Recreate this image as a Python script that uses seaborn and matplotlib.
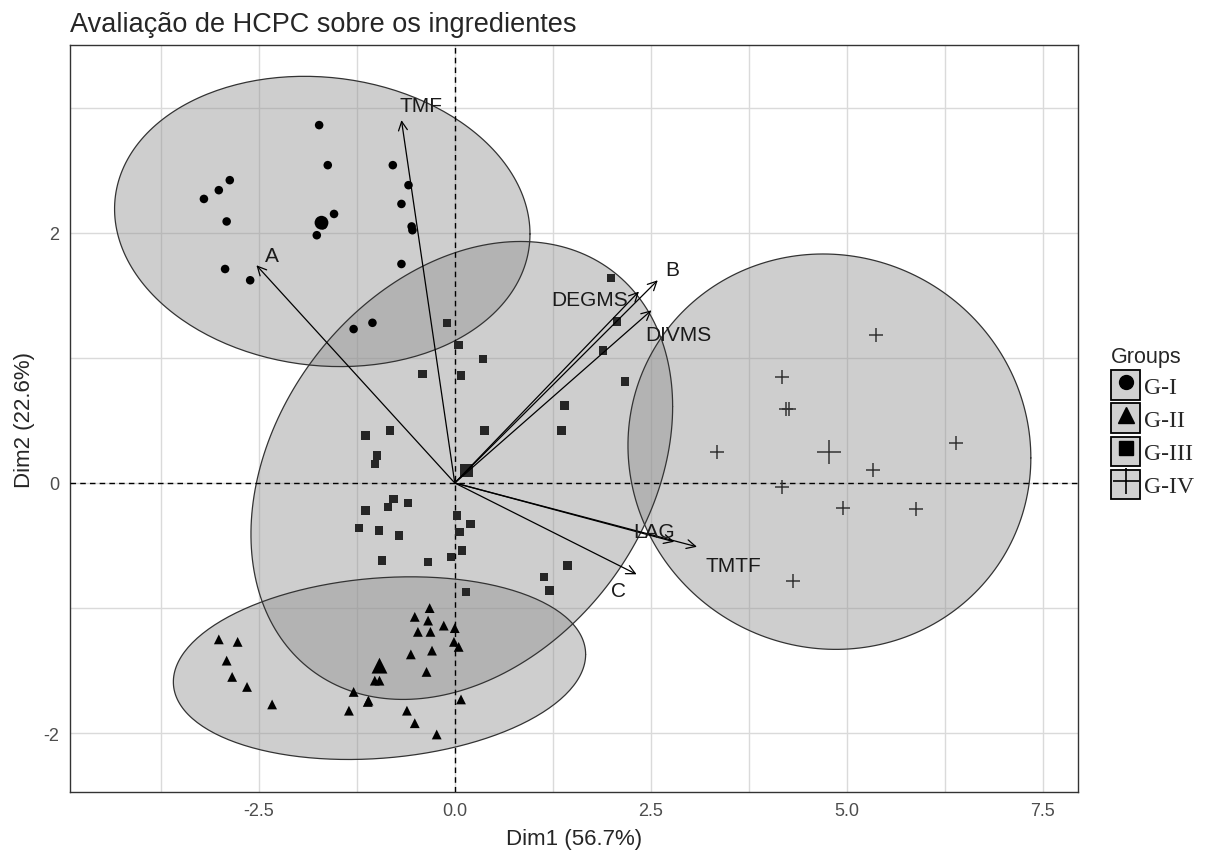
import numpy as np
import pandas as pd
import matplotlib
matplotlib.use("Agg")
import matplotlib.pyplot as plt
from matplotlib.patches import Rectangle
from matplotlib.lines import Line2D
from matplotlib.legend_handler import HandlerTuple
import seaborn as sns

# individuals on the first two HCPC/PCA dimensions, by group
g1_dim1 = [-1.73, -1.62, -2.87, -3.01, -3.20, -2.91, -1.54, -1.76, -0.79, -0.59,
           -0.68, -0.55, -0.54, -0.68, -2.93, -2.61, -1.29, -1.05, -1.68]
g1_dim2 = [2.86, 2.54, 2.42, 2.34, 2.27, 2.09, 2.15, 1.98, 2.54, 2.38,
           2.23, 2.05, 2.02, 1.75, 1.71, 1.62, 1.23, 1.28, 2.06]

g2_dim1 = [-3.01, -2.77, -2.91, -2.84, -2.65, -2.33, -1.35, -1.29, -1.11, -1.10,
           -1.02, -0.96, -0.61, -0.51, -0.23, -0.56, -0.36, -0.29, -0.47, -0.31,
           -0.34, -0.51, -0.32, -0.14, 0.00, -0.01, 0.05, 0.08]
g2_dim2 = [-1.25, -1.27, -1.42, -1.55, -1.63, -1.77, -1.82, -1.67, -1.75, -1.74,
           -1.58, -1.58, -1.82, -1.92, -2.01, -1.37, -1.51, -1.34, -1.19, -1.19,
           -1.10, -1.07, -1.00, -1.14, -1.16, -1.27, -1.31, -1.73]

g3_dim1 = [-0.10, 0.05, 0.36, -0.41, 0.08, 1.99, 2.07, 1.89, 2.17, 1.40,
           1.36, 0.38, -1.14, -0.83, -0.99, -1.02, -0.78, -0.85, -0.60, -1.14,
           -1.22, -0.97, -0.71, 0.03, 0.20, 0.06, 0.09, -0.05, -0.34, -0.93,
           1.44, 1.14, 1.21, 0.14]
g3_dim2 = [1.28, 1.10, 0.99, 0.87, 0.86, 1.64, 1.29, 1.06, 0.81, 0.62,
           0.42, 0.42, 0.38, 0.42, 0.22, 0.15, -0.13, -0.19, -0.16, -0.22,
           -0.36, -0.38, -0.42, -0.26, -0.33, -0.39, -0.54, -0.59, -0.63, -0.62,
           -0.66, -0.75, -0.86, -0.87]

g4_dim1 = [5.38, 4.18, 4.23, 4.27, 3.35, 6.40, 5.34, 4.18, 4.95, 5.88, 4.31]
g4_dim2 = [1.18, 0.85, 0.59, 0.59, 0.25, 0.32, 0.10, -0.03, -0.20, -0.21, -0.78]

groups = ["G-I", "G-II", "G-III", "G-IV"]
centroid_dim1 = [-1.70, -0.96, 0.15, 4.77]
centroid_dim2 = [2.08, -1.46, 0.10, 0.25]

# ellipses: centre, half extent along Dim1 / Dim2, Dim2 offset at the Dim1 extreme
ell_cx = [-1.69, -0.96, 0.09, 4.78]
ell_cy = [2.09, -1.48, 0.10, 0.25]
ell_hx = [2.65, 2.63, 2.69, 2.57]
ell_hy = [1.16, 0.73, 1.83, 1.58]
ell_tilt = [-0.10, 0.11, 0.51, -0.05]

# variable arrows (correlation circle scaled)
var_names = ["TMF", "A", "B", "DEGMS", "DIVMS", "LAG", "TMTF", "C"]
var_dim1 = [-0.68, -2.53, 2.59, 2.35, 2.51, 2.80, 3.09, 2.32]
var_dim2 = [2.90, 1.74, 1.62, 1.53, 1.38, -0.47, -0.51, -0.73]
lab_dim1 = [-0.43, -2.33, 2.78, 1.72, 2.85, 2.54, 3.55, 2.09]
lab_dim2 = [3.02, 1.82, 1.71, 1.47, 1.19, -0.39, -0.66, -0.86]

df = pd.concat([
    pd.DataFrame({"Dim1": g1_dim1, "Dim2": g1_dim2, "Group": "G-I"}),
    pd.DataFrame({"Dim1": g2_dim1, "Dim2": g2_dim2, "Group": "G-II"}),
    pd.DataFrame({"Dim1": g3_dim1, "Dim2": g3_dim2, "Group": "G-III"}),
    pd.DataFrame({"Dim1": g4_dim1, "Dim2": g4_dim2, "Group": "G-IV"}),
], ignore_index=True)
df_centroids = pd.DataFrame({"Dim1": centroid_dim1, "Dim2": centroid_dim2, "Group": groups})

sns.set_style("white")
plt.rcParams["font.family"] = ["Liberation Sans", "DejaVu Sans"]

markers = {"G-I": "o", "G-II": "^", "G-III": "s", "G-IV": "+"}
sizes = {"G-I": 38, "G-II": 50, "G-III": 36, "G-IV": 115}
colors = {"G-I": "black", "G-II": "black", "G-III": "#262626", "G-IV": "#333333"}

fig = plt.figure(figsize=(12.05, 8.54), dpi=100)
ax = fig.add_axes([0.058, 0.0714, 0.8365, 0.8747])


def ellipse_path(cx, cy, hx, hy, tilt, n=240):
    shape = np.array([[hx ** 2, hx * tilt], [hx * tilt, hy ** 2]])
    chol = np.linalg.cholesky(shape)
    t = np.linspace(0, 2 * np.pi, n)
    pts = chol @ np.vstack([np.cos(t), np.sin(t)])
    return cx + pts[0], cy + pts[1]


for i, grp in enumerate(groups):
    ex, ey = ellipse_path(ell_cx[i], ell_cy[i], ell_hx[i], ell_hy[i], ell_tilt[i])
    ax.fill(ex, ey, facecolor="#919191", alpha=0.44, edgecolor="none", zorder=1)
    ax.plot(ex, ey, color="#333333", lw=0.9, zorder=2)

ax.axhline(0, color="black", lw=1.0, ls=(0, (4, 3)), zorder=3)
ax.axvline(0, color="black", lw=1.0, ls=(0, (4, 3)), zorder=3)

for grp in groups:
    sub = df[df["Group"] == grp]
    cen = df_centroids[df_centroids["Group"] == grp]
    kw = dict(marker=markers[grp], color=colors[grp], legend=False, ax=ax, zorder=5)
    if markers[grp] == "+":
        kw["linewidth"] = 1.1
    else:
        kw["edgecolor"] = "none"
    sns.scatterplot(data=sub, x="Dim1", y="Dim2", s=sizes[grp], **kw)
    sns.scatterplot(data=cen, x="Dim1", y="Dim2", s=sizes[grp] * 2.6, **kw)

for name, vx, vy, lx, ly in zip(var_names, var_dim1, var_dim2, lab_dim1, lab_dim2):
    ax.annotate("", xy=(vx, vy), xytext=(0, 0),
                arrowprops=dict(arrowstyle="->", lw=0.9, color="black",
                                mutation_scale=16, shrinkA=0, shrinkB=0),
                zorder=6)
    ax.text(lx, ly, name, fontsize=15, color="#1a1a1a", ha="center", va="center", zorder=7)

ax.set_xlim(-4.91, 7.95)
ax.set_ylim(-2.47, 3.50)
ax.set_xticks([-2.5, 0, 2.5, 5, 7.5])
ax.set_xticklabels(["-2.5", "0.0", "2.5", "5.0", "7.5"])
ax.set_xticks([-3.75, -1.25, 1.25, 3.75, 6.25], minor=True)
ax.set_yticks([-2, 0, 2])
ax.set_yticklabels(["-2", "0", "2"])
ax.set_yticks([-1, 1, 3], minor=True)
ax.grid(True, which="both", color="#dadada", lw=1.0, zorder=0)
ax.set_axisbelow(True)
ax.tick_params(axis="both", which="major", direction="out", length=4, width=1,
               color="#333333", labelsize=13, labelcolor="#4d4d4d")
ax.tick_params(axis="both", which="minor", length=0)
for sp in ax.spines.values():
    sp.set_color("#333333")
    sp.set_linewidth(1.0)

ax.set_xlabel("Dim1 (56.7%)", fontsize=16, labelpad=6)
ax.set_ylabel("Dim2 (22.6%)", fontsize=16, labelpad=6)
ax.set_title("Avaliação de HCPC sobre os ingredientes", fontsize=19.5, loc="left", pad=10)

handles = []
for grp in groups:
    box = Rectangle((0, 0), 1, 1, facecolor="#d0d0d0", edgecolor="black", lw=1.3)
    if markers[grp] == "+":
        mk = Line2D([], [], marker="+", color="black", ls="", markersize=19, mew=1.2)
    elif markers[grp] == "^":
        mk = Line2D([], [], marker="^", color="black", ls="", markersize=12)
    else:
        mk = Line2D([], [], marker=markers[grp], color="black", ls="", markersize=10)
    handles.append((box, mk))

fig.legend(handles, groups, handler_map={tuple: HandlerTuple(ndivide=1)},
           loc="upper left", bbox_to_anchor=(0.914, 0.605), frameon=False,
           title="Groups", title_fontproperties={"family": "Liberation Sans", "size": 15.5},
           prop={"family": "Liberation Serif", "size": 17},
           handlelength=1.25, handleheight=1.55, handletextpad=0.15,
           labelspacing=0.15, alignment="left", borderaxespad=0)

fig.savefig("out.png", dpi=100)
